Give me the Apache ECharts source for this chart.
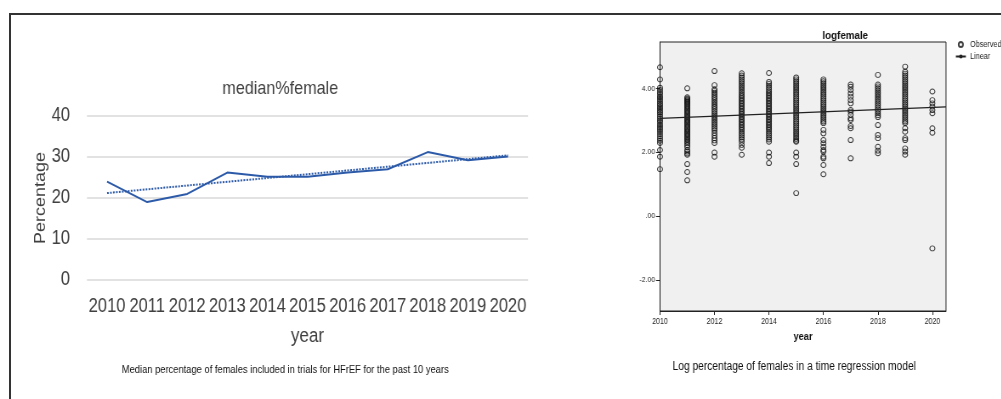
<!DOCTYPE html>
<html>
<head>
<meta charset="utf-8">
<script src="https://cdn.jsdelivr.net/npm/echarts@6/dist/echarts.min.js"></script>
<style>
html, body { margin: 0; padding: 0; background: #fff; overflow: hidden; }
#frame { position: absolute; left: 9px; top: 13px; width: 1100px; height: 500px; border-top: 2px solid #333; border-left: 2px solid #333; }
/* the source picture is squeezed sideways, so the chart is drawn wider and scaled back */
#main { position: absolute; left: 0; top: 0; width: 1178px; height: 399px; transform: scaleX(0.85); transform-origin: 0 0; }
</style>
</head>
<body>
<div id="frame"></div>
<div id="main"></div>
<script>
// left panel: median % female per year
var years = ['2010', '2011', '2012', '2013', '2014', '2015', '2016', '2017', '2018', '2019', '2020'];
var medianFemale = [24, 19, 21, 26.2, 25.2, 25.2, 26.2, 27, 31.2, 29.2, 30.1];
var trendYears = ['2010', '2020'];
var trendValues = [21.2, 30.4];

// right panel: log % female, observed per trial
var logYears = [2010, 2011, 2012, 2013, 2014, 2015, 2016, 2017, 2018, 2019, 2020];
var logValues = [
    [4.66, 4.28, 4.02, 3.95, 3.88, 3.82, 3.75, 3.70, 3.64, 3.58, 3.52, 3.47, 3.41, 3.36, 3.30, 3.25, 3.19, 3.12, 3.06, 3.00, 2.95, 2.88, 2.82, 2.76, 2.70, 2.64, 2.57, 2.50, 2.43, 2.36, 2.29, 2.07, 1.86, 1.47],
    [4.00, 3.72, 3.68, 3.65, 3.62, 3.59, 3.56, 3.53, 3.50, 3.46, 3.42, 3.38, 3.34, 3.30, 3.26, 3.22, 3.18, 3.14, 3.10, 3.06, 3.02, 2.98, 2.94, 2.90, 2.86, 2.82, 2.78, 2.74, 2.70, 2.66, 2.62, 2.58, 2.54, 2.50, 2.46, 2.42, 2.38, 2.33, 2.28, 2.22, 2.16, 2.07, 2.02, 1.96, 1.92, 1.63, 1.38, 1.12],
    [4.54, 4.10, 3.97, 3.92, 3.86, 3.80, 3.74, 3.69, 3.63, 3.57, 3.51, 3.45, 3.40, 3.34, 3.28, 3.22, 3.16, 3.10, 3.04, 2.98, 2.92, 2.86, 2.80, 2.74, 2.68, 2.60, 2.52, 2.44, 2.37, 2.29, 1.99, 1.86],
    [4.47, 4.40, 4.34, 4.28, 4.22, 4.16, 4.10, 4.04, 3.98, 3.92, 3.86, 3.80, 3.75, 3.70, 3.65, 3.60, 3.55, 3.50, 3.45, 3.40, 3.35, 3.30, 3.25, 3.20, 3.15, 3.10, 3.05, 3.00, 2.95, 2.90, 2.85, 2.80, 2.75, 2.70, 2.64, 2.58, 2.52, 2.46, 2.40, 2.33, 2.23, 2.14, 1.92],
    [4.48, 4.20, 4.14, 4.08, 4.02, 3.96, 3.90, 3.85, 3.80, 3.75, 3.70, 3.65, 3.60, 3.55, 3.50, 3.45, 3.40, 3.35, 3.30, 3.25, 3.20, 3.15, 3.10, 3.05, 3.00, 2.95, 2.90, 2.85, 2.80, 2.75, 2.70, 2.64, 2.58, 2.52, 2.46, 2.40, 2.33, 1.99, 1.86, 1.66],
    [4.34, 4.28, 4.22, 4.16, 4.10, 4.04, 3.98, 3.92, 3.86, 3.80, 3.74, 3.68, 3.62, 3.56, 3.50, 3.44, 3.38, 3.32, 3.26, 3.20, 3.14, 3.08, 3.02, 2.96, 2.90, 2.84, 2.78, 2.72, 2.66, 2.60, 2.54, 2.48, 2.42, 2.36, 2.33, 1.99, 1.86, 1.63, 0.72],
    [4.28, 4.22, 4.16, 4.10, 4.04, 3.98, 3.92, 3.86, 3.80, 3.74, 3.68, 3.62, 3.56, 3.50, 3.44, 3.38, 3.32, 3.26, 3.20, 3.14, 3.08, 3.02, 2.96, 2.91, 2.70, 2.59, 2.38, 2.28, 2.17, 2.07, 2.02, 1.86, 1.81, 1.60, 1.31],
    [4.12, 4.05, 3.95, 3.84, 3.74, 3.63, 3.53, 3.32, 3.27, 3.17, 3.06, 3.01, 2.82, 2.75, 2.38, 1.81],
    [4.42, 4.12, 4.06, 4.00, 3.94, 3.88, 3.82, 3.76, 3.70, 3.64, 3.58, 3.52, 3.46, 3.40, 3.34, 3.28, 3.22, 3.16, 3.10, 2.85, 2.54, 2.44, 2.17, 2.05, 1.97],
    [4.68, 4.52, 4.46, 4.40, 4.34, 4.28, 4.22, 4.16, 4.10, 4.04, 3.98, 3.92, 3.86, 3.80, 3.74, 3.68, 3.62, 3.56, 3.50, 3.44, 3.38, 3.32, 3.26, 3.20, 3.14, 3.08, 3.02, 2.96, 2.91, 2.75, 2.64, 2.44, 2.38, 2.12, 2.02, 1.92],
    [3.90, 3.63, 3.53, 3.43, 3.32, 3.22, 2.75, 2.61, -1.01]
];
var linearX = [2010, 2020.5];
var linearY = [3.06, 3.42];
var logXTicks = [2010, 2012, 2014, 2016, 2018, 2020];
var logYTicks = [-2, 0, 2, 4];

var FONT = '"Liberation Sans", Arial, sans-serif';
var S = 0.85; // horizontal squeeze, see css
function px(x) { return x / S; } // screen x -> chart x

var observed = [];
logYears.forEach(function (yr, i) {
    logValues[i].forEach(function (v) { observed.push([yr, v]); });
});

var myChart = echarts.init(document.getElementById('main'));
var option = {
    animation: false,
    textStyle: { fontFamily: FONT },
    title: [
        { text: 'median%female', left: px(276), top: 74, textAlign: 'center', textStyle: { fontFamily: FONT, fontSize: 19, fontWeight: 'normal', color: '#404040' } },
        { text: 'Median percentage of females included in trials for HFrEF for the past 10 years', left: px(281), top: 359, textAlign: 'center', textStyle: { fontFamily: FONT, fontSize: 11, fontWeight: 'normal', color: '#111' } },
        { text: 'logfemale', left: px(841), top: 25, textAlign: 'center', textStyle: { fontFamily: FONT, fontSize: 11.5, fontWeight: 'bold', color: '#111' } },
        { text: 'Log percentage of females in a time regression model', left: px(790), top: 356, textAlign: 'center', textStyle: { fontFamily: FONT, fontSize: 12, fontWeight: 'normal', color: '#111' } }
    ],
    legend: {
        data: ['Observed', 'Linear'],
        orient: 'vertical',
        left: px(955),
        top: 40,
        padding: 0,
        itemWidth: px(10),
        itemHeight: 5,
        itemGap: 3,
        textStyle: { fontFamily: FONT, fontSize: 8.5, color: '#222' }
    },
    grid: [
        { left: px(87), top: 116, width: px(441), height: 164 },
        { left: px(660), top: 42, width: px(286), height: 269, show: true, backgroundColor: '#f0f0f0', borderColor: '#222', borderWidth: 1 }
    ],
    xAxis: [
        {
            type: 'category', gridIndex: 0, data: years, boundaryGap: true,
            axisLine: { show: false }, axisTick: { show: false },
            axisLabel: { interval: 0, fontSize: 19.5, color: '#404040', margin: 17 },
            name: 'year', nameLocation: 'middle', nameGap: 46,
            nameTextStyle: { fontSize: 20, color: '#404040' }
        },
        {
            type: 'value', gridIndex: 1, min: 2010, max: 2020.5,
            axisLine: { show: true, onZero: false, lineStyle: { color: '#222' } },
            axisTick: { show: true, length: 4, customValues: logXTicks, lineStyle: { color: '#222' } },
            axisLabel: {
                customValues: logXTicks, fontSize: 8.3, color: '#222', margin: 7,
                formatter: function (v) { return String(v); }
            },
            splitLine: { show: false },
            name: 'year', nameLocation: 'middle', nameGap: 20,
            nameTextStyle: { fontSize: 11, fontWeight: 'bold', color: '#111' }
        }
    ],
    yAxis: [
        {
            type: 'value', gridIndex: 0, min: 0, max: 40, interval: 10,
            axisLine: { show: false }, axisTick: { show: false },
            axisLabel: { fontSize: 19.5, color: '#404040', margin: px(17) },
            splitLine: { lineStyle: { color: '#d9d9d9', width: 1.5 } },
            name: 'Percentage', nameLocation: 'middle', nameGap: 42,
            nameTextStyle: { fontSize: 18, color: '#404040' }
        },
        {
            type: 'value', gridIndex: 1, min: -2.97, max: 5.45,
            axisLine: { show: true, onZero: false, lineStyle: { color: '#222' } },
            axisTick: { show: true, length: px(4), customValues: logYTicks, lineStyle: { color: '#222' } },
            axisLabel: {
                customValues: logYTicks, fontSize: 8, color: '#222', margin: px(5),
                formatter: function (v) { return v === 0 ? '.00' : v.toFixed(2); }
            },
            splitLine: { show: false }
        }
    ],
    series: [
        {
            type: 'line', xAxisIndex: 0, yAxisIndex: 0, data: medianFemale,
            symbol: 'none', lineStyle: { color: '#2c5aa8', width: 2 }, itemStyle: { color: '#2c5aa8' }
        },
        {
            type: 'line', xAxisIndex: 0, yAxisIndex: 0,
            data: trendYears.map(function (y, i) { return [y, trendValues[i]]; }),
            symbol: 'none', lineStyle: { color: '#2c5aa8', width: 2, type: [2, 1.5] }
        },
        {
            name: 'Observed', type: 'scatter', xAxisIndex: 1, yAxisIndex: 1, data: observed,
            symbol: 'circle', symbolSize: [px(5), 5],
            itemStyle: { color: 'rgba(0,0,0,0)', borderColor: '#111', borderWidth: 1 }
        },
        {
            name: 'Linear', type: 'line', xAxisIndex: 1, yAxisIndex: 1,
            data: linearX.map(function (x, i) { return [x, linearY[i]]; }),
            symbol: 'none', lineStyle: { color: '#222', width: 1.2 }, itemStyle: { color: '#222' }
        }
    ]
};

option && myChart.setOption(option);
</script>
</body>
</html>
